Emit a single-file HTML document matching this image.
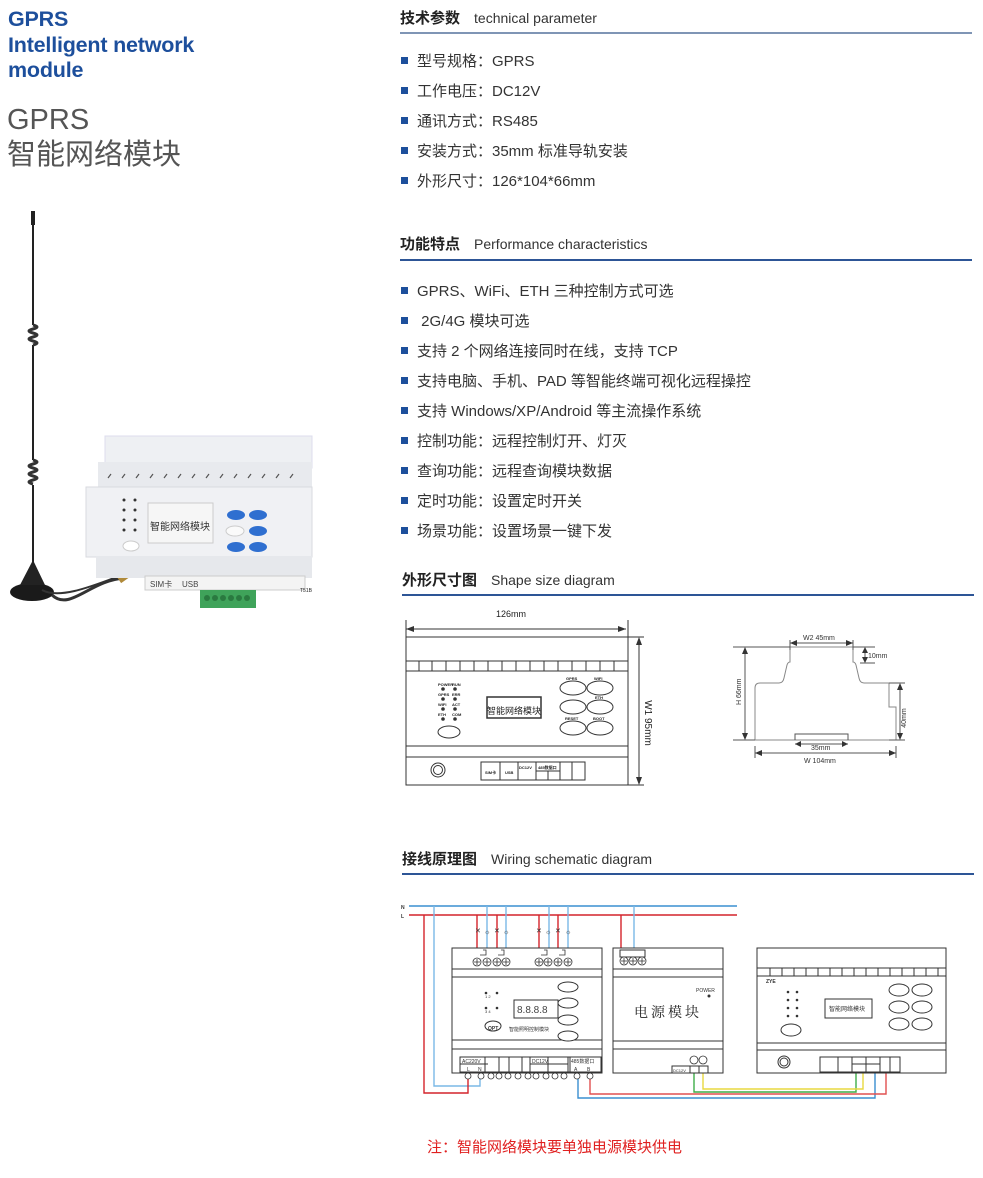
<!DOCTYPE html>
<html><head><meta charset="utf-8"><style>
body{margin:0;width:983px;height:1178px;background:#fff;position:relative;overflow:hidden;font-family:"Liberation Sans","Noto Sans CJK SC",sans-serif;}
.a{position:absolute;white-space:nowrap;}
.t1{color:#1d4f9c;font-size:21.5px;line-height:25px;font-weight:bold;letter-spacing:-0.2px}
.t2{color:#555;font-size:29px;line-height:34px}
.h{font-size:15px;font-weight:bold;color:#222}
.h span{font-weight:normal;font-size:14px;margin-left:14px;color:#333}
.ln{position:absolute;left:400px;width:572px;height:1.5px;background:#2d5596}
.b{position:absolute;left:401px;font-size:15px;color:#333;white-space:nowrap;line-height:18px}
.b:before{content:"";display:inline-block;width:7px;height:7px;background:#1d4f9c;margin-right:9px;vertical-align:2px}
</style></head><body>
<div class="a t1" style="left:8px;top:7px">GPRS</div>
<div class="a t1" style="left:8px;top:33px">Intelligent network</div>
<div class="a t1" style="left:8px;top:58px">module</div>
<div class="a t2" style="left:7px;top:103px">GPRS</div>
<div class="a t2" style="left:7px;top:138px">智能网络模块</div>

<div class="a h" style="left:400px;top:7px">技术参数<span>technical parameter</span></div>
<div class="ln" style="top:32px;background:#7f95b5"></div>
<div class="b" style="top:53px">型号规格：GPRS</div>
<div class="b" style="top:83px">工作电压：DC12V</div>
<div class="b" style="top:113px">通讯方式：RS485</div>
<div class="b" style="top:143px">安装方式：35mm 标准导轨安装</div>
<div class="b" style="top:173px">外形尺寸：126*104*66mm</div>

<div class="a h" style="left:400px;top:233px">功能特点<span>Performance characteristics</span></div>
<div class="ln" style="top:259px"></div>
<div class="b" style="top:283px">GPRS、WiFi、ETH 三种控制方式可选</div>
<div class="b" style="top:313px"> 2G/4G 模块可选</div>
<div class="b" style="top:343px">支持 2 个网络连接同时在线，支持 TCP</div>
<div class="b" style="top:373px">支持电脑、手机、PAD 等智能终端可视化远程操控</div>
<div class="b" style="top:403px">支持 Windows/XP/Android 等主流操作系统</div>
<div class="b" style="top:433px">控制功能：远程控制灯开、灯灭</div>
<div class="b" style="top:463px">查询功能：远程查询模块数据</div>
<div class="b" style="top:493px">定时功能：设置定时开关</div>
<div class="b" style="top:523px">场景功能：设置场景一键下发</div>

<div class="a h" style="left:402px;top:569px">外形尺寸图<span>Shape size diagram</span></div>
<div class="ln" style="top:594px;left:402px;width:572px"></div>
<div class="a h" style="left:402px;top:848px">接线原理图<span>Wiring schematic diagram</span></div>
<div class="ln" style="top:873px;left:402px;width:572px"></div>
<div class="a" style="left:427px;top:1136px;color:#e02020;font-size:15px">注：智能网络模块要单独电源模块供电</div>

<svg class="a" style="left:0;top:0" width="983" height="1178" viewBox="0 0 983 1178" font-family="Liberation Sans,Noto Sans CJK SC,sans-serif">
<!-- product photo -->
<g>
<path d="M33 213 L33 325 M33 345 L33 460 M33 485 L33 580" stroke="#222" stroke-width="2"/>
<rect x="31" y="211" width="4" height="14" fill="#222"/>
<path d="M33 325 q8 2 0 4 q-8 2 0 4 q8 2 0 4 q-8 2 0 4 q8 2 0 4 M33 460 q8 2 0 4 q-8 2 0 4 q8 2 0 4 q-8 2 0 4 q8 2 0 4 q-8 2 0 4" stroke="#333" stroke-width="3" fill="none"/>
<ellipse cx="32" cy="592" rx="22" ry="9" fill="#1a1a1a"/>
<path d="M20 585 L33 560 L45 585 Z" fill="#222"/>
<path d="M52 595 C70 612 90 580 125 578" stroke="#333" stroke-width="3" fill="none"/>
<path d="M42 590 C60 600 95 585 122 575" stroke="#333" stroke-width="2" fill="none"/>
<rect x="117" y="570" width="14" height="10" fill="#b08a3a" transform="rotate(-35 124 575)"/>
<rect x="105" y="436" width="207" height="32" fill="#eef0f3" stroke="#dde"/>
<rect x="98" y="462" width="214" height="26" fill="#e8eaee"/>
<g stroke="#555" stroke-width="1.2">
<path d="M108 478l3-4M122 478l3-4M136 478l3-4M150 478l3-4M164 478l3-4M178 478l3-4M192 478l3-4M206 478l3-4M220 478l3-4M234 478l3-4M248 478l3-4M262 478l3-4M276 478l3-4M290 478l3-4"/>
</g>
<rect x="86" y="487" width="226" height="70" fill="#f0f1f4" stroke="#d8dadf"/>
<rect x="96" y="556" width="216" height="22" fill="#e6e8ec"/>
<rect x="145" y="576" width="160" height="14" fill="#f4f4f4" stroke="#ccc"/>
<text x="150" y="587" font-size="8" fill="#444">SIM卡</text><text x="182" y="587" font-size="8" fill="#444">USB</text>
<text x="300" y="592" font-size="5" fill="#222">T51B</text>
<rect x="200" y="590" width="56" height="18" fill="#3fa35a"/>
<g fill="#2a7a40"><circle cx="207" cy="598" r="3"/><circle cx="215" cy="598" r="3"/><circle cx="223" cy="598" r="3"/><circle cx="231" cy="598" r="3"/><circle cx="239" cy="598" r="3"/><circle cx="247" cy="598" r="3"/></g>
<rect x="148" y="503" width="65" height="40" fill="#f6f6f6" stroke="#ccc"/>
<text x="180" y="530" font-size="10" fill="#333" text-anchor="middle">智能网络模块</text>
<g fill="#333"><circle cx="124" cy="500" r="1.5"/><circle cx="135" cy="500" r="1.5"/><circle cx="124" cy="510" r="1.5"/><circle cx="135" cy="510" r="1.5"/><circle cx="124" cy="520" r="1.5"/><circle cx="135" cy="520" r="1.5"/><circle cx="124" cy="530" r="1.5"/><circle cx="135" cy="530" r="1.5"/></g>
<ellipse cx="131" cy="546" rx="8" ry="5" fill="#fff" stroke="#ccc"/>
<g fill="#2f6fd0"><ellipse cx="236" cy="515" rx="9" ry="5"/><ellipse cx="258" cy="515" rx="9" ry="5"/><ellipse cx="258" cy="531" rx="9" ry="5"/><ellipse cx="236" cy="547" rx="9" ry="5"/><ellipse cx="258" cy="547" rx="9" ry="5"/></g>
<ellipse cx="235" cy="531" rx="9" ry="5" fill="#fafafa" stroke="#ccc"/>
</g>

<!-- front view -->
<g stroke="#333" fill="none" stroke-width="1">
<rect x="406" y="637" width="222" height="148"/>
<path d="M406 661H628M406 671H628M406 746H628M406 757H628"/>
<path d="M419 661v10M432 661v10M446 661v10M460 661v10M474 661v10M488 661v10M502 661v10M516 661v10M530 661v10M544 661v10M558 661v10M572 661v10M586 661v10M600 661v10M614 661v10"/>
<path d="M406 629H626M406 620V637M628 620V637"/>
<path d="M628 637H644M628 785H644M639 640V782"/>
<ellipse cx="449" cy="732" rx="11" ry="6"/>
<rect x="487" y="697" width="54" height="21" stroke-width="1.5"/>
<ellipse cx="573" cy="688" rx="13" ry="7"/><ellipse cx="600" cy="688" rx="13" ry="7"/>
<ellipse cx="573" cy="707" rx="13" ry="7"/><ellipse cx="600" cy="707" rx="13" ry="7"/>
<ellipse cx="573" cy="728" rx="13" ry="7"/><ellipse cx="600" cy="728" rx="13" ry="7"/>
<circle cx="438" cy="770" r="7"/><circle cx="438" cy="770" r="4.5"/>
<rect x="481" y="762" width="104" height="18"/>
<path d="M500 762V780M518 762V780M536 771H560M536 762V780M560 762V780M548 771V780M572 762V780"/>
</g>
<g fill="#333">
<path d="M406 629l8-3v6zM626 629l-8-3v6zM639 637l-3 8h6zM639 785l-3-8h6z"/>
<circle cx="443" cy="689" r="1.8"/><circle cx="455" cy="689" r="1.8"/><circle cx="443" cy="699" r="1.8"/><circle cx="455" cy="699" r="1.8"/><circle cx="443" cy="709" r="1.8"/><circle cx="455" cy="709" r="1.8"/><circle cx="443" cy="719" r="1.8"/><circle cx="455" cy="719" r="1.8"/>
</g>
<g font-size="4" fill="#222" font-weight="bold">
<text x="438" y="686">POWER</text><text x="452" y="686">RUN</text><text x="438" y="696">GPRS</text><text x="452" y="696">ERR</text>
<text x="438" y="706">WIFI</text><text x="452" y="706">ACT</text><text x="438" y="716">ETH</text><text x="452" y="716">COM</text>
<text x="566" y="680">GPRS</text><text x="594" y="680">WIFI</text><text x="595" y="699">ETH</text><text x="565" y="720">RESET</text><text x="593" y="720">BOOT</text>
<text x="485" y="774">SIM卡</text><text x="505" y="774">USB</text><text x="519" y="769">DC12V</text><text x="538" y="769">485数据口</text>
</g>
<text x="514" y="714" font-size="9" fill="#222" text-anchor="middle">智能网络模块</text>
<text x="511" y="617" font-size="9" fill="#222" text-anchor="middle">126mm</text>
<text x="645" y="723" font-size="10" fill="#222" text-anchor="middle" transform="rotate(90 645 723)">W1   95mm</text>

<!-- side view -->
<g stroke="#555" fill="none" stroke-width="1">
<path d="M755 740V688Q755 683 760 683H779Q783 683 784 678L787 665Q788 662 790 662V647H853V662Q855 662 856 665L859 678Q860 683 864 683H889V707H896V740H755" stroke="#888"/>
<path d="M795 740V734H848V740" stroke="#555"/>
<path d="M733 647H790M733 740H755M745 650V737M853 647H875M860 663H875M865 650V660M889 683H905M889 740H905M900 686V737"/>
<path d="M790 640V650M853 640V650M790 643H853M795 744H848M755 746V758M896 746V758M755 753H896"/>
</g>
<g fill="#333">
<path d="M745 647l-3 7h6zM745 740l-3-7h6zM900 683l-3 7h6zM900 740l-3-7h6zM790 643l7-3v6zM853 643l-7-3v6zM865 663l-3-6h6zM865 647l-3 6h6zM795 744l6-3v6zM848 744l-6-3v6zM755 753l7-3v6zM896 753l-7-3v6z"/>
</g>
<g font-size="7" fill="#333">
<text x="803" y="640">W2 45mm</text><text x="868" y="658">10mm</text>
<text x="811" y="750">35mm</text><text x="804" y="763">W    104mm</text>
<text x="741" y="705" transform="rotate(-90 741 705)">H  66mm</text>
<text x="906" y="718" transform="rotate(-90 906 718)" text-anchor="middle">40mm</text>
</g>

<!-- wiring -->
<g fill="none" stroke-width="1.4">
<path d="M409 906H737" stroke="#3a8fd0"/>
<path d="M409 915H737" stroke="#d4242c"/>
<path d="M434 906V1086H480V1079" stroke="#7ab8e6"/>
<path d="M424 915V1093H468V1079" stroke="#d4242c"/>
<path d="M477 915V955M497 915V955M539 915V955M558 915V955M621 915V955" stroke="#d4242c"/>
<path d="M487 906V955M506 906V955M549 906V955M568 906V955M634 906V955" stroke="#7ab8e6"/>
<path d="M694 1066V1092H856V1070" stroke="#3fae49"/>
<path d="M703 1066V1089H863V1070" stroke="#e8d840"/>
<path d="M578 1079V1098H875V1070" stroke="#3a8fd0"/>
<path d="M590 1079V1094H886V1070" stroke="#e05050"/>
</g>
<g stroke="#333" fill="#fff" stroke-width="1">
<rect x="452" y="948" width="150" height="125"/>
<path d="M452 969H602M452 977H602M452 1040H602M452 1049H602" fill="none"/>
<rect x="613" y="948" width="110" height="125"/>
<path d="M613 969H723M613 977H723M613 1041H723M613 1049H723" fill="none"/>
<rect x="757" y="948" width="189" height="125"/>
<path d="M757 968H946M757 976H946M757 1043H946M757 1050H946" fill="none"/>
<path d="M770 968v8M782 968v8M794 968v8M806 968v8M818 968v8M830 968v8M842 968v8M854 968v8M866 968v8M878 968v8M890 968v8M902 968v8M914 968v8M926 968v8M938 968v8" fill="none"/>
<rect x="460" y="1057" width="141" height="15"/>
<path d="M460 1064H488M485 1057V1072M499 1057V1072M509 1057V1072M522 1057V1072M530 1057V1072M548 1057V1072M568 1057V1072M530 1064H568M570 1057V1072" fill="none"/>
<rect x="514" y="1000" width="44" height="18"/>
<ellipse cx="568" cy="987" rx="10" ry="5"/><ellipse cx="568" cy="1003" rx="10" ry="5"/><ellipse cx="568" cy="1020" rx="10" ry="5"/><ellipse cx="568" cy="1036" rx="10" ry="5"/>
<ellipse cx="493" cy="1026" rx="8" ry="5"/>
<rect x="825" y="999" width="47" height="19"/>
<ellipse cx="899" cy="990" rx="10" ry="6"/><ellipse cx="922" cy="990" rx="10" ry="6"/>
<ellipse cx="899" cy="1007" rx="10" ry="6"/><ellipse cx="922" cy="1007" rx="10" ry="6"/>
<ellipse cx="899" cy="1024" rx="10" ry="6"/><ellipse cx="922" cy="1024" rx="10" ry="6"/>
<ellipse cx="791" cy="1030" rx="10" ry="6"/>
<circle cx="784" cy="1062" r="6"/><circle cx="784" cy="1062" r="4"/>
<rect x="820" y="1057" width="80" height="15"/>
<path d="M838 1057V1072M852 1057V1072M866 1057V1072M852 1064H880M880 1057V1072M890 1057V1072" fill="none"/>
<rect x="672" y="1066" width="18" height="7"/>
<rect x="690" y="1066" width="9" height="7"/><rect x="699" y="1066" width="9" height="7"/>
<rect x="620" y="950" width="25" height="7"/>
</g>
<g stroke="#333" fill="#fff" stroke-width="0.8">
<circle cx="477" cy="962" r="4"/><circle cx="487" cy="962" r="4"/><circle cx="497" cy="962" r="4"/><circle cx="506" cy="962" r="4"/>
<circle cx="539" cy="962" r="4"/><circle cx="548" cy="962" r="4"/><circle cx="558" cy="962" r="4"/><circle cx="568" cy="962" r="4"/>
<circle cx="624" cy="961" r="4"/><circle cx="633" cy="961" r="4"/><circle cx="642" cy="961" r="4"/>
<circle cx="694" cy="1060" r="4"/><circle cx="703" cy="1060" r="4"/>
<circle cx="468" cy="1076" r="3"/><circle cx="481" cy="1076" r="3"/><circle cx="491" cy="1076" r="3"/><circle cx="499" cy="1076" r="3"/><circle cx="508" cy="1076" r="3"/><circle cx="518" cy="1076" r="3"/><circle cx="528" cy="1076" r="3"/><circle cx="536" cy="1076" r="3"/><circle cx="546" cy="1076" r="3"/><circle cx="555" cy="1076" r="3"/><circle cx="564" cy="1076" r="3"/><circle cx="577" cy="1076" r="3"/><circle cx="590" cy="1076" r="3"/>
<path d="M474 962h6M484 962h6M494 962h6M503 962h6M536 962h6M545 962h6M555 962h6M565 962h6M621 961h6M630 961h6M639 961h6M477 959v6M487 959v6M497 959v6M506 959v6M539 959v6M548 959v6M558 959v6M568 959v6M624 958v6M633 958v6M642 958v6" fill="none"/>
<path d="M480 955h6v-5h-3M498 955h6v-5h-3M541 955h6v-5h-3M559 955h6v-5h-3" fill="none"/>
</g>
<g fill="#333" font-size="5">
<text x="475" y="933" font-size="7">✕</text><text x="484" y="934" font-size="7">☼</text><text x="494" y="933" font-size="7">✕</text><text x="503" y="934" font-size="7">☼</text>
<text x="536" y="933" font-size="7">✕</text><text x="545" y="934" font-size="7">☼</text><text x="555" y="933" font-size="7">✕</text><text x="565" y="934" font-size="7">☼</text>
<text x="401" y="909" font-weight="bold">N</text><text x="401" y="918" font-weight="bold">L</text>
<text x="462" y="1063">AC220V</text><text x="467" y="1071">L</text><text x="478" y="1071">N</text>
<text x="532" y="1063">DC12V</text><text x="571" y="1063">485数据口</text><text x="574" y="1071">A</text><text x="587" y="1071">B</text>
<text x="696" y="992">POWER</text><text x="673" y="1072" font-size="4">DC12V</text>
<text x="766" y="983" font-weight="bold">ZYE</text>
<text x="485" y="998" font-size="4">1 2</text><text x="485" y="1013" font-size="4">3 4</text>
<text x="488" y="1030" font-size="5" font-weight="bold">OPT</text>
<text x="509" y="1031">智能照明控制模块</text>
<text x="829" y="1011" font-size="6">智能网络模块</text>
<text x="517" y="1013" font-size="10" fill="#444">8.8.8.8</text>
</g>
<g fill="#333">
<circle cx="709" cy="996" r="1.5"/>
<circle cx="486" cy="993" r="1.3"/><circle cx="497" cy="993" r="1.3"/><circle cx="486" cy="1008" r="1.3"/><circle cx="497" cy="1008" r="1.3"/>
<circle cx="788" cy="992" r="1.3"/><circle cx="797" cy="992" r="1.3"/><circle cx="788" cy="1000" r="1.3"/><circle cx="797" cy="1000" r="1.3"/><circle cx="788" cy="1008" r="1.3"/><circle cx="797" cy="1008" r="1.3"/><circle cx="788" cy="1016" r="1.3"/><circle cx="797" cy="1016" r="1.3"/>
</g>
<text x="668" y="1017" font-size="14" fill="#222" text-anchor="middle" font-family="Liberation Serif,Noto Serif CJK SC,serif" letter-spacing="3">电源模块</text>
</svg>
</body></html>
